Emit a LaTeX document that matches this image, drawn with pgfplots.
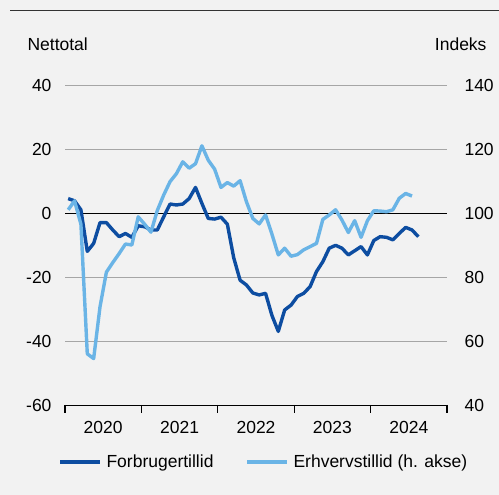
\documentclass[border=0pt]{standalone}
\usepackage{pgfplots}
\pgfplotsset{compat=1.18}
\usepackage{fontspec}
\setmainfont{Liberation Sans}
\definecolor{bg}{HTML}{F2F2F2}
\definecolor{darkblue}{HTML}{0D4DA1}
\definecolor{lightblue}{HTML}{6AB4E6}
\definecolor{gridgray}{HTML}{A6A6A6}

% month index from jan 2020 = 0
\pgfplotstableread{
m v
0 4.5
1 3.8
2 1
3 -12
4 -9.5
5 -3
6 -3
7 -5.3
8 -7.4
9 -6.4
10 -7.6
11 -4
12 -4.3
13 -5.3
14 -5.3
15 -1.2
16 2.8
17 2.5
18 2.8
19 4.5
20 8
21 3
22 -1.7
23 -1.9
24 -1.3
25 -3.5
26 -14
27 -21
28 -22.5
29 -25
30 -25.6
31 -25.1
32 -32
33 -37
34 -30.3
35 -28.8
36 -26.1
37 -25.1
38 -23
39 -18.3
40 -15.2
41 -11
42 -10.1
43 -11
44 -13.1
45 -11.8
46 -10.5
47 -13.1
48 -8.6
49 -7.4
50 -7.6
51 -8.4
52 -6.4
53 -4.5
54 -5.3
55 -7.4
}\forbruger

\pgfplotstableread{
m v
0 101
1 103.8
2 96.5
3 56
4 54.5
5 70.7
6 81.5
7 84.5
8 87.3
9 90.3
10 90
11 98.8
12 96.5
13 94
14 100.8
15 105.6
16 109.8
17 112.3
18 116
19 114
20 115.4
21 121
22 116.5
23 113.7
24 108
25 109.5
26 108.4
27 110.1
28 103.5
29 98.3
30 96.6
31 99.4
32 93.4
33 86.9
34 89
35 86.5
36 87
37 88.5
38 89.5
39 90.5
40 98
41 99.4
42 101
43 97.8
44 93.9
45 97.6
46 92.4
47 97.6
48 100.7
49 100.6
50 100.4
51 101
52 104.6
53 106.1
54 105.3
}\erhverv

\begin{document}
\begin{tikzpicture}[x=1bp,y=1bp]
\fill[bg] (0,0) rectangle (499,495);
\draw[black!80, line width=0.8bp] (10,485) -- (499,485);

\pgfplotsset{
  every axis/.append style={
    scale only axis, width=382bp, height=320bp,
    at={(65bp,90bp)}, anchor=south west,
    xmin=-0.5, xmax=59.5,
    font=\fontsize{17.5bp}{21bp}\selectfont,
    /pgf/number format/assume math mode=true,
    tick style={draw=none},
    axis line style={draw=none},
    xtick=\empty,
    clip=false,
  },
}

\begin{axis}[
  ymin=-60, ymax=40, ytick={-60,-40,...,40},
  ymajorgrids, grid style={gridgray, line width=0.8bp},
  ytick pos=left,
  yticklabel style={anchor=east, xshift=-10bp},
]
\draw[black, line width=0.8bp] (axis cs:-0.5,0) -- (axis cs:59.5,0);
\draw[black, line width=0.8bp] (axis cs:-0.5,-60) -- (axis cs:59.5,-60);
\pgfplotsinvokeforeach{-0.5,11.5,23.5,35.5,47.5,59.5}{
  \draw[black, line width=1.2bp] (axis cs:#1,-60) -- ([yshift=-8bp]axis cs:#1,-60);
}
\node[anchor=north] at ([yshift=-13bp]axis cs:5.5,-60) {2020};
\node[anchor=north] at ([yshift=-13bp]axis cs:17.5,-60) {2021};
\node[anchor=north] at ([yshift=-13bp]axis cs:29.5,-60) {2022};
\node[anchor=north] at ([yshift=-13bp]axis cs:41.5,-60) {2023};
\node[anchor=north] at ([yshift=-13bp]axis cs:53.5,-60) {2024};
\node[anchor=base west] at ([xshift=-41bp, yshift=34bp]axis cs:-0.5,40) {Nettotal};
\addplot[darkblue, line width=3.4bp, line join=round] table[x=m, y=v] {\forbruger};
\end{axis}

\begin{axis}[
  ymin=40, ymax=140, ytick={40,60,...,140},
  yticklabel style={anchor=west, xshift=14bp},
  ytick pos=right,
]
\node[anchor=base east] at ([xshift=43bp, yshift=34bp]axis cs:59.5,140) {Indeks};
\addplot[lightblue, line width=3.4bp, line join=round] table[x=m, y=v] {\erhverv};
\end{axis}

\draw[darkblue, line width=3.4bp] (60,33) -- (100,33);
\node[anchor=base west, font=\fontsize{17.5bp}{21bp}\selectfont] at (103,27) {Forbrugertillid};
\draw[lightblue, line width=3.4bp] (247,33) -- (287,33);
\node[anchor=base west, font=\fontsize{17.5bp}{21bp}\selectfont] at (290,27) {Erhvervstillid (h. akse)};

\pgfresetboundingbox
\path (0,0) rectangle (499,495);
\end{tikzpicture}
\end{document}
